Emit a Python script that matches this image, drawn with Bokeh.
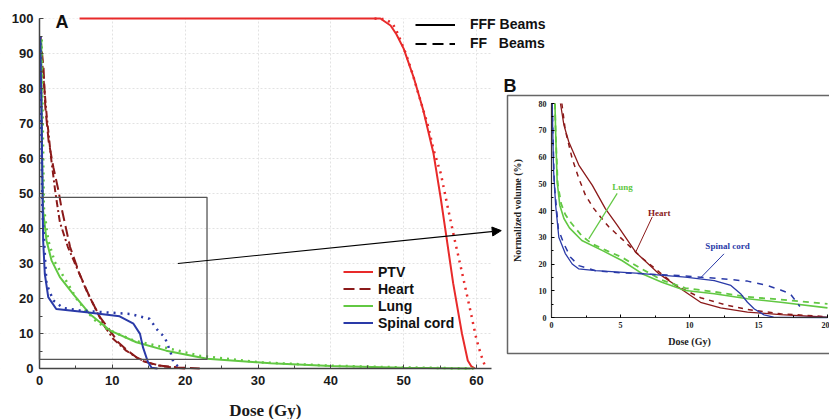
from bokeh.plotting import figure
from bokeh.models import (Legend, LegendItem, Label, Arrow, NormalHead, BoxAnnotation,
                          SingleIntervalTicker, ColumnDataSource, LinearAxis, Range1d)
from bokeh.core.properties import value
from bokeh.embed import file_html
from bokeh.resources import INLINE

# ---------------- data: panel A (main) ----------------
ptv_fff_x = [5.5, 46.8, 48.2, 49.0, 50.0, 51.4, 52.7, 54.1, 55.1, 55.8, 56.8, 58.0, 58.8, 59.3, 59.8]
ptv_fff_y = [100, 100, 98.0, 95.5, 91.4, 83.0, 73.7, 61.4, 48.5, 38.6, 24.3, 10.0, 2.3, 0.6, 0.0]
ptv_ff_x = [46.0, 47.5, 48.5, 49.2, 50.2, 51.0, 51.9, 52.6, 53.4, 54.1, 55.1, 56.0, 57.0, 58.1, 59.1, 60.0, 60.6, 61.2]
ptv_ff_y = [100, 99.8, 98.5, 95.7, 90.5, 85.7, 79.4, 74.5, 68.9, 62.5, 55.7, 46.6, 36.8, 26.6, 17.1, 8.3, 4.0, 0.5]

heart_fff_x = [0.1, 0.55, 0.8, 1.25, 1.9, 2.6, 3.0, 4.2, 5.5, 6.9, 8.3, 9.65, 10.8, 12.1, 13.9, 16.2, 19.0, 22.0]
heart_fff_y = [95, 86, 74.6, 65, 57.5, 50.9, 46.1, 34.7, 27.0, 20.4, 14.7, 10.9, 7.5, 5.1, 2.3, 0.9, 0.3, 0.0]
heart_ff_x = [0.1, 0.5, 1.0, 1.6, 2.2, 2.8, 3.9, 5.1, 6.45, 8.7, 10.1, 11.9, 13.3, 14.7, 17.0, 20.0]
heart_ff_y = [95, 84, 72, 60, 50, 41.8, 34.7, 28.9, 22.3, 12.8, 8.5, 5.1, 3.2, 1.8, 0.6, 0.0]

lung_fff_x = [0.25, 0.35, 0.5, 0.96, 1.65, 2.8, 4.6, 6.9, 9.65, 13.3, 17.4, 23.0, 31.7, 40.0, 50.0, 59.2]
lung_fff_y = [94, 60, 45.1, 36.6, 30.9, 26.1, 21.3, 15.6, 10.9, 7.5, 5.1, 2.8, 1.5, 0.7, 0.2, 0.0]
lung_ff_x = [0.3, 0.6, 1.2, 2.1, 3.9, 5.1, 6.2, 7.5, 9.3, 12.9, 17.6, 22.1, 30.0, 40.0, 50.0, 60.0]
lung_ff_y = [94, 46, 36.6, 30.4, 24.2, 19.9, 17.0, 14.0, 11.2, 8.0, 5.8, 3.6, 1.8, 0.8, 0.3, 0.0]

spinal_fff_x = [0.1, 0.3, 0.41, 0.5, 0.73, 1.2, 2.3, 6.45, 11.0, 12.9, 13.8, 14.2, 14.9, 15.4, 16.2]
spinal_fff_y = [95, 70, 50.9, 36.6, 27.0, 20.4, 17.0, 16.1, 14.9, 12.8, 9.9, 6.1, 1.8, 0.2, 0.0]
spinal_ff_x = [0.1, 0.4, 0.96, 1.9, 3.25, 5.5, 8.7, 12.4, 15.1, 16.2, 17.2, 18.0, 18.4, 19.4]
spinal_ff_y = [95, 45, 24.2, 19.4, 17.3, 16.6, 16.1, 15.6, 14.2, 11.0, 8.9, 4.6, 1.7, 0.0]

# ---------------- data: panel B (inset) ----------------
in_heart_fff_x = [0.65, 0.9, 1.25, 1.98, 2.95, 3.9, 4.76, 6.1, 7.8, 9.2, 10.8, 12.25, 14.2, 16.6, 20.0]
in_heart_fff_y = [80, 71.9, 65.7, 57.0, 49.5, 40.7, 34.5, 24.4, 16.3, 11.3, 5.7, 3.6, 2.0, 1.1, 0.1]
in_heart_ff_x = [0.75, 1.0, 1.5, 1.98, 2.46, 3.07, 3.55, 4.15, 5.1, 6.5, 9.0, 10.8, 12.7, 14.2, 16.6, 20.0]
in_heart_ff_y = [80, 70, 59.4, 52, 45.7, 40.7, 37.6, 33.9, 29.4, 22.5, 12.0, 7.4, 4.6, 3.0, 1.4, 0.3]

in_lung_fff_x = [0.25, 0.3, 0.41, 0.6, 0.9, 1.3, 2.2, 3.7, 5.1, 6.6, 8.0, 9.7, 11.8, 14.2, 16.6, 20.0]
in_lung_fff_y = [80, 69.5, 50.8, 42.0, 37.0, 33.5, 28.8, 25.0, 21.3, 16.3, 13.2, 10.1, 8.9, 7.0, 5.7, 3.6]
in_lung_ff_x = [0.25, 0.3, 0.45, 0.7, 1.0, 1.4, 2.2, 2.95, 4.0, 5.1, 6.6, 8.0, 9.7, 11.8, 14.2, 16.6, 20.0]
in_lung_ff_y = [80, 69, 50, 42.5, 38.5, 35.5, 30.5, 27.5, 25.0, 22.5, 18.0, 14.0, 11.0, 9.6, 7.7, 6.7, 5.1]

in_spinal_fff_x = [0.05, 0.15, 0.3, 0.41, 0.53, 1.0, 1.5, 1.96, 3.2, 6.1, 9.7, 11.8, 13.0, 13.7, 14.2, 14.7, 15.4, 16.1, 20.0]
in_spinal_fff_y = [80, 55, 42, 36.3, 30, 23.9, 20, 18.2, 17.5, 16.6, 15.1, 13.8, 12.0, 8.9, 5.7, 3.2, 1.0, 0.1, 0.0]
in_spinal_ff_x = [0.05, 0.2, 0.5, 0.9, 1.38, 1.98, 3.2, 5.1, 9.2, 12.25, 14.2, 15.6, 16.6, 17.3, 18.0]
in_spinal_ff_y = [80, 50, 33, 27.5, 22.5, 19.4, 17.5, 16.7, 15.7, 14.5, 13.6, 12.0, 10.3, 8.9, 4.1]

legend_labels = ["PTV", "Heart", "Lung", "Spinal cord"]
beam_labels = ["FFF Beams", "FF\u00a0\u00a0\u00a0Beams"]

# annotation anchors (inset data units)
lung_lbl = (5.15, 48.7); lung_lead = ([4.76, 2.7], [46.4, 29.4])
heart_lbl = (7.0, 39.0); heart_lead = ([7.3, 6.1], [37.6, 24.4])
spinal_lbl = (11.15, 26.8); spinal_lead = ([12.5, 10.8], [23.8, 14.8])

RED = "#e82a2a"; HEART = "#8b1a1a"; GREEN = "#62c843"; BLUE = "#2a3aa8"
SERIF = value("Liberation Serif")

# ---------------- layout geometry (pixels) ----------------
W, H = 829, 419
X0_PX, Y0_PX = 39, 368                     # panel A origin on the canvas
MAIN_PX_PER_GY = 437 / 60.0
MAIN_PX_PER_PCT = 3.5
IN_X0, IN_PX_PER_GY = 551, 13.8            # panel B origin / scale
IN_Y0, IN_PX_PER_PCT = 317, 2.675

mx0 = -X0_PX / MAIN_PX_PER_GY
my0 = -(H - Y0_PX) / MAIN_PX_PER_PCT
ix0 = -IN_X0 / IN_PX_PER_GY
iy0 = -(H - IN_Y0) / IN_PX_PER_PCT

p = figure(width=W, height=H,
           x_range=Range1d(mx0, mx0 + W / MAIN_PX_PER_GY),
           y_range=Range1d(my0, my0 + H / MAIN_PX_PER_PCT),
           output_backend="svg", toolbar_location=None,
           min_border_left=0, min_border_right=0, min_border_top=0, min_border_bottom=0)
p.extra_x_ranges = {"inx": Range1d(ix0, ix0 + W / IN_PX_PER_GY)}
p.extra_y_ranges = {"iny": Range1d(iy0, iy0 + H / IN_PX_PER_PCT)}
p.outline_line_color = None

xa, ya = p.xaxis[0], p.yaxis[0]
xa.fixed_location = 0
ya.fixed_location = 0
xa.bounds = (0, 62)
ya.bounds = (0, 100)
xa.ticker = SingleIntervalTicker(interval=10, num_minor_ticks=2)
ya.ticker = SingleIntervalTicker(interval=10, num_minor_ticks=2)
for ax in (xa, ya):
    ax.axis_line_color = "#444"
    ax.axis_line_width = 1.5
    ax.major_tick_in = 4
    ax.major_tick_out = 0
    ax.minor_tick_in = 3
    ax.minor_tick_out = 0
    ax.major_tick_line_color = "#444"
    ax.minor_tick_line_color = "#444"
    ax.major_label_text_font = "Liberation Sans"
    ax.major_label_text_font_style = "bold"
    ax.major_label_text_font_size = "13px"
    ax.major_label_text_color = "#1a1a1a"
xa.major_label_standoff = 7
ya.major_label_standoff = 6
p.xgrid.bounds = (0, 62)
p.ygrid.bounds = (0, 100)
p.xgrid.grid_line_color = "#e2e2e2"
p.ygrid.grid_line_color = "#e2e2e2"
p.xgrid.grid_line_dash = "2 2"
p.ygrid.grid_line_dash = "2 2"

# white covers keeping the grid inside panel A, then the panel-B box (all under the glyphs)
cover = dict(fill_color="white", fill_alpha=1, line_alpha=0, level="underlay")
p.add_layout(BoxAnnotation(left=62.05, right=300, bottom=-100, top=300, **cover))
p.add_layout(BoxAnnotation(left=-100, right=0, bottom=-100, top=300, **cover))
p.add_layout(BoxAnnotation(left=-100, right=300, bottom=-100, top=0, **cover))
p.add_layout(BoxAnnotation(left=-100, right=300, bottom=100, top=300, **cover))
p.add_layout(BoxAnnotation(left=(507 - X0_PX) / MAIN_PX_PER_GY, right=300,
                           top=(Y0_PX - 95) / MAIN_PX_PER_PCT, bottom=(Y0_PX - 353) / MAIN_PX_PER_PCT,
                           fill_color="white", fill_alpha=1, line_color="#666666",
                           line_width=1.5, line_alpha=1, level="underlay"))
# zoom window on panel A
p.add_layout(BoxAnnotation(left=0, right=23, bottom=2.6, top=48.9, fill_alpha=0,
                           line_color="#555555", line_width=1.3, line_alpha=1))

# ---- panel A curves ----
r_ptv = p.line(ptv_fff_x, ptv_fff_y, line_color=RED, line_width=2)
p.line(ptv_ff_x, ptv_ff_y, line_color=RED, line_width=2.5, line_dash="2 5")
r_heart = p.line(heart_fff_x, heart_fff_y, line_color=HEART, line_width=2, line_dash="11 5")
p.line(heart_ff_x, heart_ff_y, line_color=HEART, line_width=2, line_dash="7 3 2 3")
p.line(lung_ff_x, lung_ff_y, line_color=GREEN, line_width=2.5, line_dash="2 5")
r_lung = p.line(lung_fff_x, lung_fff_y, line_color=GREEN, line_width=2)
p.line(spinal_ff_x, spinal_ff_y, line_color=BLUE, line_width=2.5, line_dash="2 5")
r_spinal = p.line(spinal_fff_x, spinal_fff_y, line_color=BLUE, line_width=2)

leg = Legend(items=[LegendItem(label=lab, renderers=[r]) for lab, r in
                    zip(legend_labels, [r_ptv, r_heart, r_lung, r_spinal])],
             location=(343, H - 331), padding=0, margin=0, spacing=0,
             glyph_width=30, glyph_height=17, label_height=17, label_standoff=5,
             label_text_font="Liberation Sans", label_text_font_style="bold",
             label_text_font_size="14px", label_text_color="#111111",
             background_fill_alpha=0, border_line_color=None)
p.add_layout(leg)

# legend-only renderers (one point: a line with a single vertex draws nothing)
proxy_src = ColumnDataSource(data=dict(x=ptv_fff_x[:1], y=ptv_fff_y[:1]))
r_fff = p.line("x", "y", source=proxy_src, line_color="black", line_width=2)
r_ff = p.line("x", "y", source=proxy_src, line_color="black", line_width=2, line_dash="11 6")
leg2 = Legend(items=[LegendItem(label=beam_labels[0], renderers=[r_fff]),
                     LegendItem(label=beam_labels[1], renderers=[r_ff])],
              location=(415, H - 51.5), padding=0, margin=0, spacing=2,
              glyph_width=40, glyph_height=17, label_height=17, label_standoff=15,
              label_text_font="Liberation Sans", label_text_font_style="bold",
              label_text_font_size="14px", label_text_color="#111111",
              background_fill_alpha=0, border_line_color=None)
p.add_layout(leg2)

p.add_layout(Label(x=2.2, y=99.1, text="A", text_font="Liberation Sans", text_font_style="bold",
                   text_font_size="18px", text_color="#111111", text_baseline="alphabetic"))
p.add_layout(Label(x=63.7, y=80.6, text="B", text_font="Liberation Sans", text_font_style="bold",
                   text_font_size="18px", text_color="#111111", text_baseline="alphabetic"))
p.add_layout(Label(x=31, y=-12, text="Dose (Gy)", text_font="Liberation Serif", text_font_style="bold",
                   text_font_size="17px", text_color="#1a1a1a", text_align="center",
                   text_baseline="middle"))
p.add_layout(Arrow(end=NormalHead(size=9, fill_color="black", line_color="black"),
                   x_start=19.0, y_start=30.0, x_end=63.4, y_end=39.4,
                   line_color="black", line_width=1.1))

# ---- panel B (inset) axes ----
ix = LinearAxis(x_range_name="inx", y_range_name="iny", fixed_location=0, bounds=(0, 20),
                ticker=SingleIntervalTicker(interval=5, num_minor_ticks=2), axis_label="Dose (Gy)")
iy = LinearAxis(x_range_name="inx", y_range_name="iny", fixed_location=0, bounds=(0, 80),
                ticker=SingleIntervalTicker(interval=10, num_minor_ticks=2),
                axis_label="Normalized volume (%)")
for ax in (ix, iy):
    ax.axis_line_color = "#333"
    ax.axis_line_width = 1.2
    ax.major_tick_in = 3
    ax.major_tick_out = 0
    ax.minor_tick_in = 2
    ax.minor_tick_out = 0
    ax.major_label_text_font = "Liberation Serif"
    ax.major_label_text_font_style = "bold"
    ax.major_label_text_font_size = "8px"
    ax.major_label_text_color = "#222222"
    ax.axis_label_text_font = "Liberation Serif"
    ax.axis_label_text_font_style = "bold"
    ax.axis_label_text_font_size = "10px"
    ax.axis_label_text_color = "#222222"
ix.major_label_standoff = 4
iy.major_label_standoff = 5
ix.axis_label_standoff = 5
iy.axis_label_standoff = 13
p.add_layout(ix, "below")
p.add_layout(iy, "left")

IN = dict(x_range_name="inx", y_range_name="iny")
p.line(in_heart_ff_x, in_heart_ff_y, line_color=HEART, line_width=1.5, line_dash="5 5", **IN)
p.line(in_heart_fff_x, in_heart_fff_y, line_color=HEART, line_width=1.3, **IN)
p.line(in_lung_ff_x, in_lung_ff_y, line_color=GREEN, line_width=1.8, line_dash="6 5", **IN)
p.line(in_lung_fff_x, in_lung_fff_y, line_color=GREEN, line_width=1.6, **IN)
p.line(in_spinal_ff_x, in_spinal_ff_y, line_color=BLUE, line_width=1.5, line_dash="6 6", **IN)
p.line(in_spinal_fff_x, in_spinal_fff_y, line_color=BLUE, line_width=1.3, **IN)

p.line(lung_lead[0], lung_lead[1], line_color=GREEN, line_width=1.2, **IN)
p.line(heart_lead[0], heart_lead[1], line_color=HEART, line_width=1.0, **IN)
p.line(spinal_lead[0], spinal_lead[1], line_color=BLUE, line_width=1.0, **IN)
p.text(x=[lung_lbl[0]], y=[lung_lbl[1]], text=["Lung"], text_font=SERIF, text_font_style="bold",
       text_font_size="9px", text_color=GREEN, text_align="center", text_baseline="alphabetic", **IN)
p.text(x=[heart_lbl[0]], y=[heart_lbl[1]], text=["Heart"], text_font=SERIF, text_font_style="bold",
       text_font_size="9px", text_color=HEART, text_align="left", text_baseline="alphabetic", **IN)
p.text(x=[spinal_lbl[0]], y=[spinal_lbl[1]], text=["Spinal cord"], text_font=SERIF, text_font_style="bold",
       text_font_size="9px", text_color=BLUE, text_align="left", text_baseline="alphabetic", **IN)

open("out.html", "w").write(file_html(p, INLINE))
